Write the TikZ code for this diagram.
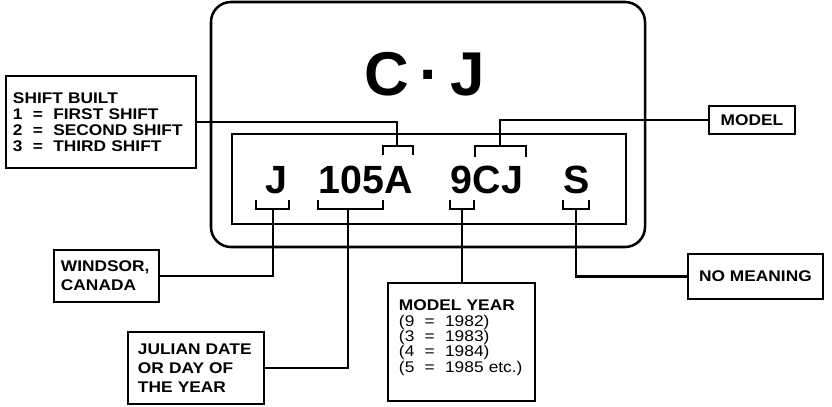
\documentclass[tikz,border=0pt]{standalone}
\usepackage{fontspec}
\setmainfont{Liberation Sans}
\newfontfamily\labfont[FakeStretch=1.12]{Liberation Sans}
\usetikzlibrary{positioning, calc}

\begin{document}
\begin{tikzpicture}[
    x=0.25mm, y=-0.25mm,
    plate/.style    = {draw, line width=1.8pt, inner sep=0pt},
    code/.style     = {font=\bfseries\fontsize{28}{28}\selectfont,
                       inner sep=0pt, anchor=base},
    tag/.style      = {draw, line width=1.4pt, inner ysep=1mm,
                       anchor=north west,
                       font=\labfont\bfseries\fontsize{11}{12}\selectfont},
    lead/.style     = {line width=1.8pt},
    thinlead/.style = {line width=0.8pt},
    brack/.style    = {line width=1.4pt}
  ]
  \useasboundingbox (0,0) rectangle (832,406);

  % plate outline and code strip
  \node[plate, rounded corners=5mm, minimum width=108.5mm,
        minimum height=61.25mm] (plate) at (428,124.5) {};
  \node[plate, minimum width=98.5mm, minimum height=22.5mm]
        (strip) at (429,179) {};

  \node[code, font=\bfseries\fontsize{44}{44}\selectfont]
        (cj) at (425,95) {C\,·\,J};
  \node[code] (j)   at (276.5,193) {J};
  \node[code] (day) at (366,193)   {105A};
  \node[code] (mdl) at (487,193)   {9CJ};
  \node[code] (s)   at (576.5,193) {S};

  % brackets under and over the code
  \draw[brack] (256,200) |- (289,209) -- (289,200);
  \draw[brack] (318,200) |- (383,209) -- (383,200);
  \draw[brack] (450,200) |- (474,209) -- (474,200);
  \draw[brack] (563,200) |- (589,209) -- (589,200);
  \draw[brack] (383,155) |- (413,146) -- (413,155);
  \draw[brack] (475,157) |- (526,146) -- (526,157);

  \coordinate (jb) at (273,209);
  \coordinate (db) at (348,209);
  \coordinate (yb) at (462,209);
  \coordinate (sb) at (576,209);
  \coordinate (ab) at (397,146);
  \coordinate (cb) at (500,146);

  % label boxes
  \node[tag, minimum width=47.5mm, minimum height=23mm, inner xsep=1.75mm,
        text width=44mm, align=left,
        font=\labfont\bfseries\fontsize{11}{11.4}\selectfont]
        (shift) at (5,75)
        {SHIFT BUILT\\1 \ = \ FIRST SHIFT\\2 \ = \ SECOND SHIFT\\3 \ = \ THIRD SHIFT};
  \node[tag, minimum width=21.5mm, minimum height=7mm] (model) at (708,105) {MODEL};
  \node[tag, minimum width=26.25mm, minimum height=13mm, inner xsep=1.75mm,
        text width=22.75mm, align=left,
        font=\labfont\bfseries\fontsize{11}{13.5}\selectfont]
        (windsor) at (53,249) {WINDSOR,\\CANADA};
  \node[tag, minimum width=34mm, minimum height=18mm, inner xsep=2.5mm,
        text width=29mm, align=left,
        font=\labfont\bfseries\fontsize{11}{13.5}\selectfont]
        (julian) at (127,331) {JULIAN DATE\\OR DAY OF\\THE YEAR};
  \node[tag, minimum width=36.75mm, minimum height=29.5mm, inner xsep=2.75mm,
        inner ysep=4mm, text width=31.25mm, text depth=18.4mm, align=left,
        font=\labfont\bfseries\fontsize{11}{11}\selectfont]
        (year) at (387,282)
        {MODEL YEAR\\\mdseries(9 \ = \ 1982)\\(3 \ = \ 1983)\\(4 \ = \ 1984)\\(5 \ = \ 1985 etc.)};
  \node[tag, minimum width=33.75mm, minimum height=11.25mm] (nomean) at (687,253) {NO MEANING};

  % leaders
  \draw[lead] (jb) |- (windsor.east);
  \draw[lead] (db) |- (julian.east);
  \draw[lead] (yb) -- (yb |- year.north);
  \draw[lead] (sb) |- (nomean.west);
  \draw[thinlead] (ab) |- (shift.east);
  \draw[thinlead] (cb) |- (model.west);
\end{tikzpicture}
\end{document}
